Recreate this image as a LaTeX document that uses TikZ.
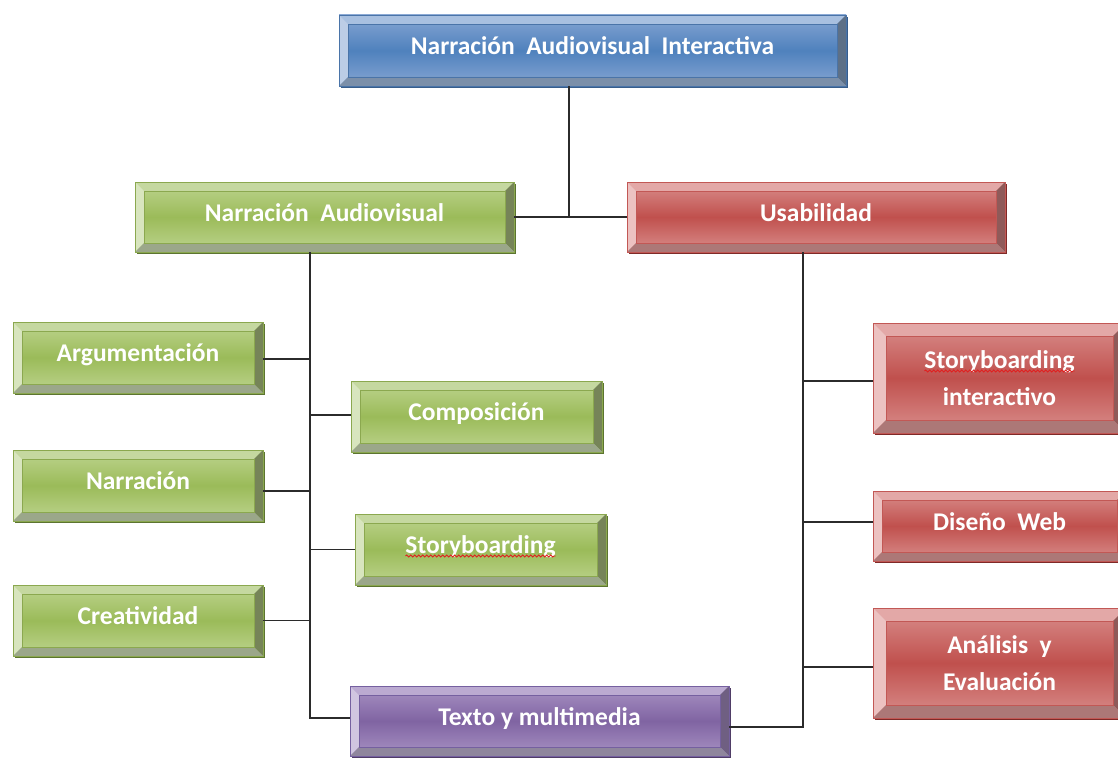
\documentclass[tikz,border=0pt]{standalone}
\usepackage{fontspec}
\setmainfont{Carlito}
\usetikzlibrary{decorations.pathmorphing}

% colour sets for the bevelled boxes: Base, Light, Top, Left, Right, Bottom, Edge, Shadow
\definecolor{blueBase}{HTML}{4F81BD}
\definecolor{blueLight}{HTML}{86A6D3}
\definecolor{blueTop}{HTML}{A8C0E0}
\definecolor{blueLeft}{HTML}{BCCDE6}
\definecolor{blueRight}{HTML}{5D7087}
\definecolor{blueBottom}{HTML}{7B8FA9}
\definecolor{blueEdge}{HTML}{4A74A8}
\definecolor{blueShadow}{HTML}{385D8A}

\definecolor{greenBase}{HTML}{9BBB59}
\definecolor{greenLight}{HTML}{BDD48F}
\definecolor{greenTop}{HTML}{C5D8A0}
\definecolor{greenLeft}{HTML}{D8E5BE}
\definecolor{greenRight}{HTML}{768458}
\definecolor{greenBottom}{HTML}{9BA78A}
\definecolor{greenEdge}{HTML}{8BA84F}
\definecolor{greenShadow}{HTML}{5C7430}

\definecolor{redBase}{HTML}{C0504D}
\definecolor{redLight}{HTML}{D98E8C}
\definecolor{redTop}{HTML}{E3A8A7}
\definecolor{redLeft}{HTML}{ECC2C1}
\definecolor{redRight}{HTML}{8F5A59}
\definecolor{redBottom}{HTML}{AC7877}
\definecolor{redEdge}{HTML}{C25855}
\definecolor{redShadow}{HTML}{7F2A28}

\definecolor{purpleBase}{HTML}{8064A2}
\definecolor{purpleLight}{HTML}{A892C4}
\definecolor{purpleTop}{HTML}{BBAAD1}
\definecolor{purpleLeft}{HTML}{D0C5E0}
\definecolor{purpleRight}{HTML}{6F5F82}
\definecolor{purpleBottom}{HTML}{8F869D}
\definecolor{purpleEdge}{HTML}{7560A0}
\definecolor{purpleShadow}{HTML}{4F3D66}

\definecolor{linkgray}{HTML}{2B2B2B}
\definecolor{spellred}{HTML}{E02020}

\tikzset{
  boxlabel/.style={inner sep=0pt, text=white, align=center,
    font=\bfseries\fontsize{25.5}{37}\selectfont},
  oneline/.style={text height=19pt, text depth=11pt},
  twolines/.style={},
  link/.style={draw=linkgray, line width=1.2pt},
  spellmark/.style={draw=spellred, line width=0.9pt,
    decoration={snake, segment length=4pt, amplitude=1pt}, decorate},
}

% \bevelbox{name}{colour set}{x1}{y1}{x2}{y2}{bevel}{label style}{text}
\newcommand\bevelbox[9]{%
  \fill[#2Shadow] (#3+2,#4+2) rectangle (#5+2,#6+2);
  \shade[top color=#2Light, bottom color=#2Light, middle color=#2Base]
    (#3,#4) rectangle (#5,#6);
  \fill[#2Top] (#3,#4) -- (#5,#4) -- (#5-#7,#4+#7) -- (#3+#7,#4+#7) -- cycle;
  \fill[#2Left] (#3,#4) -- (#3+#7,#4+#7) -- (#3+#7,#6-#7) -- (#3,#6) -- cycle;
  \fill[#2Right] (#5,#4) -- (#5,#6) -- (#5-#7,#6-#7) -- (#5-#7,#4+#7) -- cycle;
  \fill[#2Bottom] (#3,#6) -- (#5,#6) -- (#5-#7,#6-#7) -- (#3+#7,#6-#7) -- cycle;
  \draw[#2Edge, line width=0.6pt] (#3+#7,#4+#7) rectangle (#5-#7,#6-#7);
  \draw[#2Edge, line width=0.8pt] (#3,#4) rectangle (#5,#6);
  \node[boxlabel, #8, minimum width={(#5-#3)*1pt}, minimum height={(#6-#4)*1pt}]
    (#1) at ({(#3+#5)/2},{(#4+#6)/2}) {#9};
}

\begin{document}
\begin{tikzpicture}[x=1pt, y=-1pt]
  \useasboundingbox (0,0) rectangle (1118,757);
  \clip (0,0) rectangle (1118,757);
  \fill[white] (0,0) rectangle (1118,757);

  % connector junctions and trunks
  \coordinate (tj) at (569,217);
  \coordinate (lt) at (310,0);
  \coordinate (rt) at (803,0);

  % boxes
  \bevelbox{top}{blue}{339}{15}{846}{86}{9}{oneline}{Narración\ \ Audiovisual\ \ Interactiva}
  \bevelbox{NA}{green}{135}{182}{514}{252}{9}{oneline}{Narración\ \ Audiovisual}
  \bevelbox{Us}{red}{627}{182}{1005}{252}{9}{oneline}{Usabilidad}
  \bevelbox{Arg}{green}{13}{322}{263}{393}{9}{oneline}{Argumentación}
  \bevelbox{Comp}{green}{351}{381}{602}{452}{9}{oneline}{Composición}
  \bevelbox{Narr}{green}{13}{450}{263}{521}{9}{oneline}{Narración}
  \bevelbox{Story}{green}{355}{514}{606}{585}{9}{oneline}{Storyboarding}
  \bevelbox{Creat}{green}{13}{585}{263}{656}{9}{oneline}{Creatividad}
  \bevelbox{Texto}{purple}{350}{686}{729}{756}{9}{oneline}{Texto y multimedia}
  \bevelbox{SI}{red}{873}{323}{1126}{433}{13}{twolines}{Storyboarding\\interactivo}
  \bevelbox{DW}{red}{873}{491}{1126}{561}{9}{oneline}{Diseño\ \ Web}
  \bevelbox{AE}{red}{873}{608}{1126}{718}{13}{twolines}{Análisis\ \ y\\Evaluación}

  % spell-check underlines under "Storyboarding"
  \draw[spellmark] ([xshift=-75pt, yshift=-6.5pt]Story.center)
    -- ([xshift=75pt, yshift=-6.5pt]Story.center);
  \draw[spellmark] ([xshift=-75pt, yshift=7pt]SI.center)
    -- ([xshift=75pt, yshift=7pt]SI.center);

  % top level
  \draw[link] (top.south -| tj) -- (tj);
  \draw[link] (NA.east) -- (Us.west);

  % left branch
  \draw[link] (NA.south -| lt) -- ([yshift=3pt]Texto.west -| lt) -- ([yshift=3pt]Texto.west);
  \draw[link] ([yshift=-1.5pt]Arg.east) -- ([yshift=-1.5pt]Arg.east -| lt);
  \draw[link] ([yshift=1.5pt]Comp.west) -- ([yshift=1.5pt]Comp.west -| lt);
  \draw[link] ([yshift=-5.5pt]Narr.east) -- ([yshift=-5.5pt]Narr.east -| lt);
  \draw[link] (Story.west) -- (Story.west -| lt);
  \draw[link] (Creat.east) -- (Creat.east -| lt);

  % right branch
  \draw[link] (Us.south -| rt) -- ([yshift=-6pt]Texto.east -| rt) -- ([yshift=-6pt]Texto.east);
  \draw[link] ([yshift=-3pt]SI.west) -- ([yshift=-3pt]SI.west -| rt);
  \draw[link] ([yshift=4pt]DW.west) -- ([yshift=4pt]DW.west -| rt);
  \draw[link] ([yshift=-4pt]AE.west) -- ([yshift=-4pt]AE.west -| rt);
\end{tikzpicture}
\end{document}
